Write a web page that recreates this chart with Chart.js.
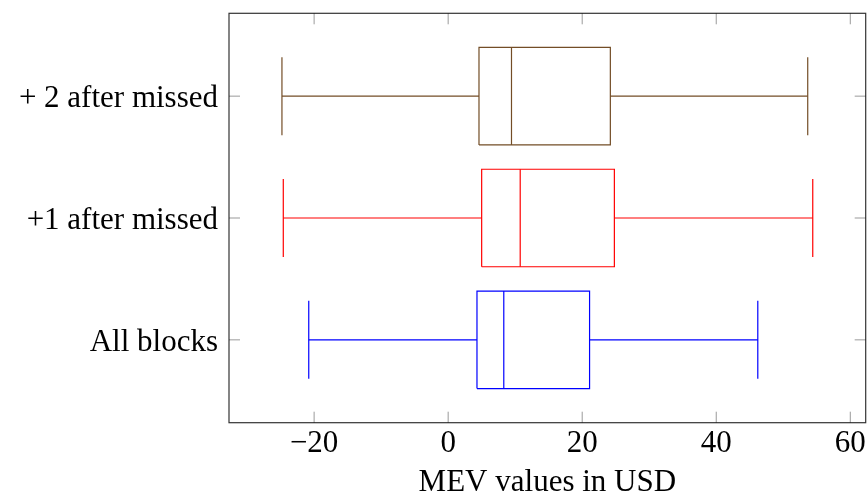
<!DOCTYPE html>
<html>
<head>
<meta charset="utf-8">
<script src="https://cdn.jsdelivr.net/npm/chart.js@4/dist/chart.umd.min.js"></script>
<style>
  html, body { margin: 0; padding: 0; background: #fff; }
  #wrap { width: 867px; height: 496px; }
</style>
</head>
<body>
<div id="wrap"><canvas id="c" width="867" height="496"></canvas></div>
<script>
// Box-plot groups, bottom to top
const categories = ['All blocks', '+1 after missed', '+ 2 after missed'];
const seriesColors = ['rgb(0,0,255)', 'rgb(255,0,0)', 'rgb(115,77,38)'];

// Five-number summaries (USD)
const lowerWhisker  = [-20.8, -24.6, -24.8];
const lowerQuartile = [4.3, 5.0, 4.6];
const median        = [8.3, 10.75, 9.45];
const upperQuartile = [21.1, 24.8, 24.2];
const upperWhisker  = [46.2, 54.4, 53.65];

// Axis ticks
const xTickValues = [-20, 0, 20, 40, 60];
const xRange = [-32.7, 62.3];
const yRange = [0.32, 3.68];

const BOX_HALF = 0.4;
const CAP_HALF = 0.32;
const SERIF = '"Liberation Serif", "Times New Roman", serif';
const FONT_SIZE = 31;

function seg(points, color) {
  return {
    data: points.map(p => ({ x: p[0], y: p[1] })),
    showLine: true,
    borderColor: color,
    borderWidth: 1.2,
    pointRadius: 0,
    pointHoverRadius: 0,
    fill: false,
    tension: 0,
    clip: false
  };
}

const datasets = [];
categories.forEach((name, i) => {
  const y = i + 1;
  const c = seriesColors[i];
  const q1 = lowerQuartile[i], q3 = upperQuartile[i];
  // box
  datasets.push(seg([[q1, y - BOX_HALF], [q3, y - BOX_HALF], [q3, y + BOX_HALF], [q1, y + BOX_HALF], [q1, y - BOX_HALF]], c));
  // median
  datasets.push(seg([[median[i], y - BOX_HALF], [median[i], y + BOX_HALF]], c));
  // whiskers
  datasets.push(seg([[lowerWhisker[i], y], [q1, y]], c));
  datasets.push(seg([[q3, y], [upperWhisker[i], y]], c));
  // caps
  datasets.push(seg([[lowerWhisker[i], y - CAP_HALF], [lowerWhisker[i], y + CAP_HALF]], c));
  datasets.push(seg([[upperWhisker[i], y - CAP_HALF], [upperWhisker[i], y + CAP_HALF]], c));
});

// Frame around the plot area with inward tick marks on all four sides
const framePlugin = {
  id: 'frame',
  afterDatasetsDraw(chart) {
    const { ctx, chartArea: a, scales } = chart;
    const tl = 11;
    ctx.save();
    ctx.strokeStyle = 'rgba(0,0,0,0.4)';
    ctx.lineWidth = 1;
    scales.x.ticks.forEach(t => {
      const px = scales.x.getPixelForValue(t.value);
      ctx.beginPath();
      ctx.moveTo(px, a.bottom); ctx.lineTo(px, a.bottom - tl);
      ctx.moveTo(px, a.top); ctx.lineTo(px, a.top + tl);
      ctx.stroke();
    });
    scales.y.ticks.forEach(t => {
      const py = scales.y.getPixelForValue(t.value);
      ctx.beginPath();
      ctx.moveTo(a.left, py); ctx.lineTo(a.left + tl, py);
      ctx.moveTo(a.right, py); ctx.lineTo(a.right - tl, py);
      ctx.stroke();
    });
    ctx.strokeStyle = 'rgba(0,0,0,0.8)';
    ctx.lineWidth = 1.2;
    ctx.strokeRect(a.left, a.top, a.right - a.left, a.bottom - a.top);
    ctx.restore();
  }
};

new Chart(document.getElementById('c'), {
  type: 'scatter',
  data: { datasets },
  options: {
    responsive: false,
    animation: false,
    events: [],
    layout: { padding: { top: 13.3, right: 1.3, left: 0, bottom: 0 } },
    plugins: { legend: { display: false }, tooltip: { enabled: false } },
    scales: {
      x: {
        type: 'linear',
        min: xRange[0],
        max: xRange[1],
        afterBuildTicks(scale) { scale.ticks = xTickValues.map(v => ({ value: v })); },
        afterFit(scale) {
          scale.height = 73.3;
          scale.paddingLeft = 0;
          scale.paddingRight = 0;
        },
        grid: { display: false, drawTicks: false },
        border: { display: false },
        ticks: {
          padding: 3,
          color: '#000',
          font: { family: SERIF, size: FONT_SIZE },
          callback: v => (v < 0 ? '\u2212' + Math.abs(v) : String(v))
        },
        title: {
          display: true,
          text: 'MEV values in USD',
          color: '#000',
          padding: 0,
          font: { family: SERIF, size: FONT_SIZE, lineHeight: 0.88 }
        }
      },
      y: {
        type: 'linear',
        min: yRange[0],
        max: yRange[1],
        afterBuildTicks(scale) { scale.ticks = categories.map((_, i) => ({ value: i + 1 })); },
        afterFit(scale) {
          scale.width = 229;
          scale.paddingTop = 0;
          scale.paddingBottom = 0;
        },
        grid: { display: false, drawTicks: false },
        border: { display: false },
        ticks: {
          padding: 11,
          labelOffset: 3,
          color: '#000',
          font: { family: SERIF, size: FONT_SIZE },
          callback: v => categories[Math.round(v) - 1]
        }
      }
    }
  },
  plugins: [framePlugin]
});
</script>
</body>
</html>
